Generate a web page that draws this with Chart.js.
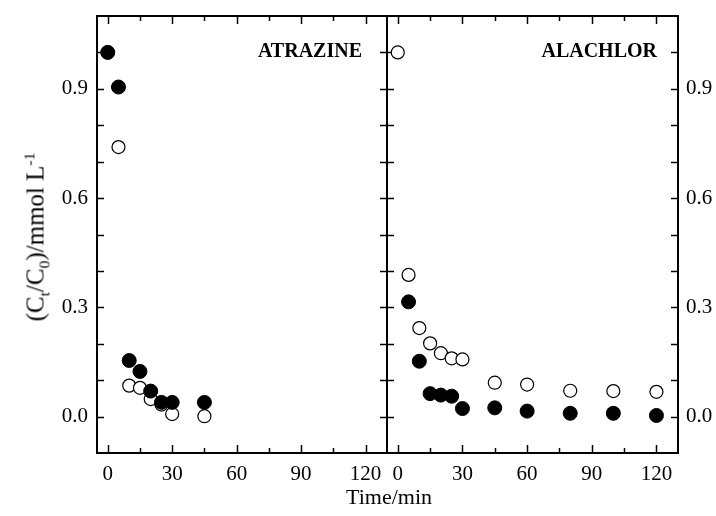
<!DOCTYPE html>
<html>
<head>
<meta charset="utf-8">
<script src="https://cdn.jsdelivr.net/npm/chart.js@4/dist/chart.umd.min.js"></script>
<style>
  html, body { margin: 0; padding: 0; background: #fff; }
  #wrap { position: relative; width: 716px; height: 516px; overflow: hidden; font-family: "Liberation Serif", "Times New Roman", serif; }
  #left { position: absolute; left: 0; top: 0; }
  #right { position: absolute; left: 387px; top: 0; }
  #ytitle { position: absolute; left: 35px; top: 237px; transform: translate(-50%, -50%) rotate(-90deg); white-space: nowrap; font-size: 25px; line-height: 1; color: #000; }
  #xtitle { position: absolute; left: 389px; top: 486px; transform: translateX(-50%); white-space: nowrap; font-size: 22px; line-height: 1; color: #000; }
  sub, sup { font-size: 0.62em; line-height: 0; }
</style>
</head>
<body>
<div id="wrap">
  <canvas id="left" width="388" height="516"></canvas>
  <canvas id="right" width="329" height="516"></canvas>
  <div id="ytitle">(C<sub>t</sub>/C<sub>0</sub>)/mmol L<sup>-1</sup></div>
  <div id="xtitle">Time/min</div>
</div>
<script>
'use strict';

// data
var atrazineTime = [0, 5, 10, 15, 20, 25, 30, 45];
var atrazineFilled = [1.0, 0.905, 0.154, 0.124, 0.07, 0.039, 0.039, 0.039];
var atrazineOpen = [1.0, 0.74, 0.085, 0.079, 0.048, 0.033, 0.007, 0.001];

var alachlorTime = [0, 5, 10, 15, 20, 25, 30, 45, 60, 80, 100, 120];
var alachlorFilled = [null, 0.315, 0.152, 0.063, 0.059, 0.056, 0.022, 0.024, 0.015, 0.009, 0.009, 0.003];
var alachlorOpen = [1.0, 0.389, 0.243, 0.201, 0.174, 0.16, 0.157, 0.093, 0.088, 0.071, 0.07, 0.068];

// axes
var xTicks = [0, 30, 60, 90, 120];
var xMinorTicks = [15, 45, 75, 105];
var yTicks = [0, 0.3, 0.6, 0.9];
var yTickLabels = ['0.0', '0.3', '0.6', '0.9'];
var yMinorTicks = [0.1, 0.2, 0.4, 0.5, 0.7, 0.8, 1.0];

var FONT = '"Liberation Serif", "Times New Roman", serif';

function toPoints(xs, ys) {
  var pts = [];
  xs.forEach(function(x, i) {
    if (ys[i] !== null) pts.push({ x: x, y: ys[i] });
  });
  return pts;
}

function line(ctx, x1, y1, x2, y2) {
  ctx.beginPath();
  ctx.moveTo(x1, y1);
  ctx.lineTo(x2, y2);
  ctx.stroke();
}

// frame + inward ticks on all four sides
var framePlugin = {
  id: 'frame',
  beforeDatasetsDraw: function(chart) {
    var ctx = chart.ctx;
    var a = chart.chartArea;
    var xs = chart.scales.x;
    var ys = chart.scales.y;
    ctx.save();
    ctx.strokeStyle = '#000';
    ctx.lineWidth = 1.5;
    xTicks.forEach(function(v) {
      var px = Math.round(xs.getPixelForValue(v)) + 0.5;
      line(ctx, px, a.bottom, px, a.bottom - 8);
      line(ctx, px, a.top, px, a.top + 8);
    });
    xMinorTicks.forEach(function(v) {
      var px = Math.round(xs.getPixelForValue(v)) + 0.5;
      line(ctx, px, a.bottom, px, a.bottom - 5);
      line(ctx, px, a.top, px, a.top + 5);
    });
    yTicks.concat(yMinorTicks).forEach(function(v) {
      var py = Math.round(ys.getPixelForValue(v)) + 0.5;
      line(ctx, a.left, py, a.left + 7, py);
      line(ctx, a.right, py, a.right - 7, py);
    });
    ctx.lineWidth = 2;
    ctx.strokeRect(a.left, a.top, a.right - a.left, a.bottom - a.top);
    ctx.restore();
  },
  afterDraw: function(chart, args, opts) {
    var ctx = chart.ctx;
    var a = chart.chartArea;
    ctx.save();
    ctx.fillStyle = '#000';
    ctx.font = 'bold 20px ' + FONT;
    ctx.textAlign = 'right';
    ctx.textBaseline = 'alphabetic';
    ctx.fillText(opts.label, a.right - opts.inset, 57);
    ctx.restore();
  }
};

function makeChart(id, filled, open, label, side) {
  var yAxisWidth = side === 'left' ? 97 : 38;
  return new Chart(document.getElementById(id), {
    type: 'scatter',
    data: {
      datasets: [
        {
          data: filled,
          backgroundColor: '#000',
          borderColor: '#000',
          borderWidth: 1,
          pointRadius: 7,
          pointHoverRadius: 7
        },
        {
          data: open,
          backgroundColor: '#fff',
          borderColor: '#000',
          borderWidth: 1.2,
          pointRadius: 6.5,
          pointHoverRadius: 6.5
        }
      ]
    },
    options: {
      responsive: false,
      animation: false,
      devicePixelRatio: 1,
      layout: {
        autoPadding: false,
        padding: side === 'left' ? { top: 16, right: 1, left: 0, bottom: 0 } : { top: 16, right: 0, left: 0, bottom: 0 }
      },
      plugins: {
        legend: { display: false },
        tooltip: { enabled: false },
        frame: { label: label, inset: side === 'left' ? 25 : 21 }
      },
      scales: {
        x: {
          type: 'linear',
          min: -5,
          max: 130,
          grid: { display: false, drawTicks: false },
          border: { display: false },
          afterBuildTicks: function(s) {
            s.ticks = xTicks.map(function(v) { return { value: v }; });
          },
          afterFit: function(s) {
            s.height = 63;
            s.paddingLeft = 0;
            s.paddingRight = 0;
          },
          ticks: {
            color: '#000',
            padding: 9,
            maxRotation: 0,
            font: { family: FONT, size: 21 }
          }
        },
        y: {
          type: 'linear',
          position: side,
          min: -0.1,
          max: 1.1,
          grid: { display: false, drawTicks: false },
          border: { display: false },
          afterBuildTicks: function(s) {
            s.ticks = yTicks.map(function(v) { return { value: v }; });
          },
          afterFit: function(s) {
            s.width = yAxisWidth;
            s.paddingTop = 0;
            s.paddingBottom = 0;
          },
          ticks: {
            color: '#000',
            padding: side === 'left' ? 9 : 8,
            font: { family: FONT, size: 21 },
            callback: function(v, i) { return yTickLabels[i]; }
          }
        }
      }
    },
    plugins: [framePlugin]
  });
}

makeChart('left', toPoints(atrazineTime, atrazineFilled), toPoints(atrazineTime, atrazineOpen), 'ATRAZINE', 'left');
makeChart('right', toPoints(alachlorTime, alachlorFilled), toPoints(alachlorTime, alachlorOpen), 'ALACHLOR', 'right');
</script>
</body>
</html>
